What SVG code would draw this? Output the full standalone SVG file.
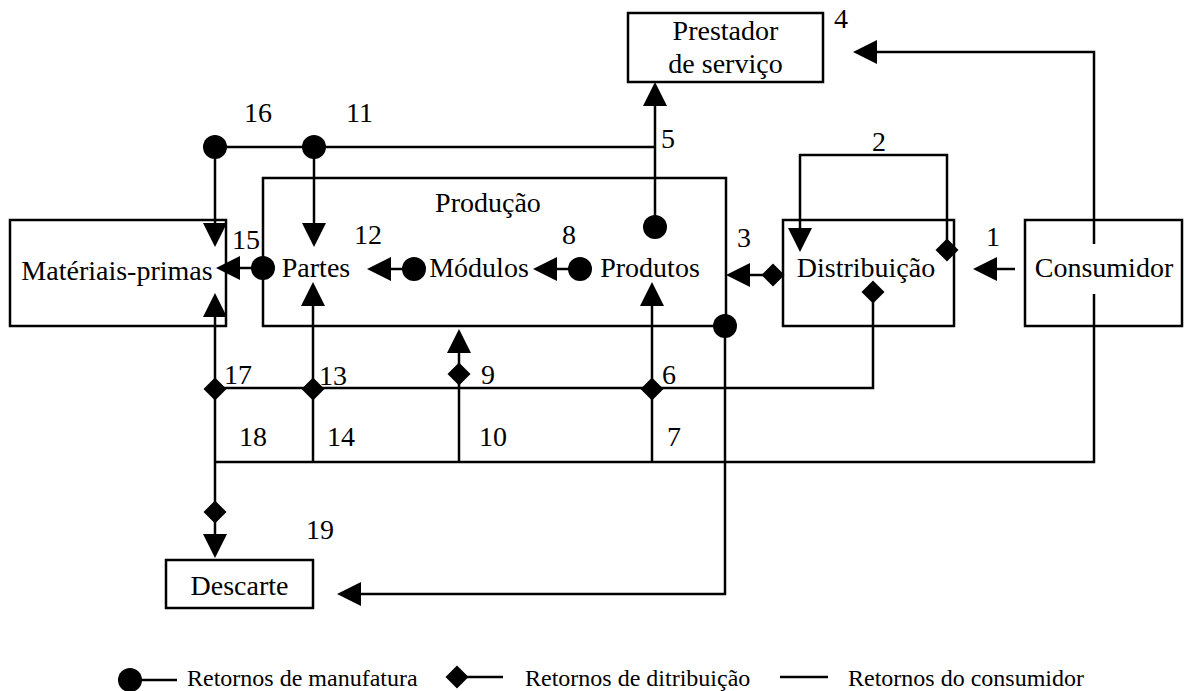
<svg xmlns="http://www.w3.org/2000/svg" xmlns:xlink="http://www.w3.org/1999/xlink" width="1184" height="691" viewBox="0 0 1184 691">
<style>
.box{fill:#fff;stroke:#000;stroke-width:2.5}
.ln{fill:none;stroke:#000;stroke-width:2.5}
.arr{fill:none;stroke:#000;stroke-width:2.5;marker-end:url(#ah)}
.t{font-family:"Liberation Serif","Times New Roman",serif;font-size:28px;fill:#000}
.c{text-anchor:middle}
.lg{font-family:"Liberation Serif","Times New Roman",serif;font-size:24px;fill:#000}
</style>
<defs>
<marker id="ah" markerUnits="userSpaceOnUse" markerWidth="24" markerHeight="24" refX="0" refY="12" orient="auto" viewBox="0 0 24 24">
<path d="M0,0 L24,12 L0,24 z" fill="#000"/>
</marker>
<circle id="dot" r="12" fill="#000"/>
<path id="dia" d="M0,-11.5 L11.5,0 L0,11.5 L-11.5,0 z" fill="#000"/>
</defs>
<rect width="1184" height="691" fill="#fff"/>

<g id="prestador">
<rect class="box" x="628" y="13" width="195" height="69"/>
<text class="t c" x="725.5" y="40">Prestador</text>
<text class="t c" x="725.5" y="73">de serviço</text>
</g>
<g id="producao">
<rect class="box" x="263" y="178" width="463" height="148"/>
<text class="t c" x="488" y="212">Produção</text>
<g id="partes"><text class="t c" x="316" y="277">Partes</text></g>
<g id="modulos"><text class="t c" x="479" y="277">Módulos</text></g>
<g id="produtos"><text class="t c" x="650" y="277">Produtos</text></g>
</g>
<g id="materias">
<rect class="box" x="10" y="220" width="216" height="106"/>
<text class="t c" x="117" y="280">Matériais-primas</text>
</g>
<g id="distribuicao">
<rect class="box" x="783" y="220" width="171" height="106"/>
<text class="t c" x="866" y="277">Distribuição</text>
</g>
<g id="consumidor">
<rect class="box" x="1025" y="220" width="157" height="106"/>
<text class="t c" x="1104" y="277">Consumidor</text>
</g>
<g id="descarte">
<rect class="box" x="166" y="560" width="147" height="48"/>
<text class="t c" x="239.5" y="595">Descarte</text>
</g>

<g id="connectors">
<!-- consumidor to prestador (4) -->
<path class="arr" d="M1094,244 L1094,52 L877,52"/>
<!-- consumer returns bottom -->
<path class="ln" d="M1094,294 L1094,462 L215,462"/>
<path class="arr" d="M313,462 L313,306"/>
<path class="arr" d="M459,462 L459,353"/>
<path class="arr" d="M652,462 L652,306"/>
<path class="arr" d="M215,462 L215,317"/>
<path class="arr" d="M215,462 L215,534"/>
<!-- distribution returns -->
<path class="ln" d="M873,292 L873,388 L215,388"/>
<use xlink:href="#dia" x="873" y="292"/>
<use xlink:href="#dia" x="215" y="389"/>
<use xlink:href="#dia" x="313" y="389"/>
<use xlink:href="#dia" x="652" y="389"/>
<use xlink:href="#dia" x="459" y="374"/>
<use xlink:href="#dia" x="215" y="512"/>
<!-- manufacturing returns top -->
<path class="arr" d="M655,227 L655,106"/>
<use xlink:href="#dot" x="655" y="227"/>
<path class="ln" d="M655,147 L215,147"/>
<path class="arr" d="M215,147 L215,223"/>
<path class="arr" d="M314,147 L314,223"/>
<use xlink:href="#dot" x="215" y="147"/>
<use xlink:href="#dot" x="314" y="147"/>
<!-- loop 2 -->
<path class="arr" d="M947,250 L947,155 L800,155 L800,228"/>
<use xlink:href="#dia" x="947" y="250"/>
<!-- 1 -->
<path class="arr" d="M1015,269 L997,269"/>
<!-- 3 -->
<path class="arr" d="M773,275 L750,275"/>
<use xlink:href="#dia" x="773" y="275"/>
<!-- 8, 12, 15 -->
<path class="arr" d="M580,269 L557,269"/>
<use xlink:href="#dot" x="580" y="269"/>
<path class="arr" d="M414,269 L391,269"/>
<use xlink:href="#dot" x="414" y="269"/>
<path class="arr" d="M263,268 L240,268"/>
<use xlink:href="#dot" x="263" y="268"/>
<!-- to descarte -->
<path class="arr" d="M725,326 L725,594 L361,594"/>
<use xlink:href="#dot" x="725" y="326"/>
</g>

<g id="labels">
<text class="t" x="834" y="28">4</text>
<text class="t" x="244" y="122">16</text>
<text class="t" x="346" y="122">11</text>
<text class="t" x="661" y="148">5</text>
<text class="t" x="872" y="151">2</text>
<text class="t" x="232" y="249">15</text>
<text class="t" x="354" y="244">12</text>
<text class="t" x="562" y="244">8</text>
<text class="t" x="737" y="247">3</text>
<text class="t" x="986" y="246">1</text>
<text class="t" x="224" y="384">17</text>
<text class="t" x="319" y="385">13</text>
<text class="t" x="481" y="384">9</text>
<text class="t" x="662" y="384">6</text>
<text class="t" x="239" y="446">18</text>
<text class="t" x="327" y="446">14</text>
<text class="t" x="479" y="446">10</text>
<text class="t" x="667" y="446">7</text>
<text class="t" x="306" y="539">19</text>
</g>

<g id="legend">
<line class="ln" x1="130" y1="680" x2="177" y2="680"/>
<use xlink:href="#dot" x="130" y="680"/>
<text class="lg" x="187" y="686">Retornos de manufatura</text>
<line class="ln" x1="457" y1="677" x2="503" y2="677"/>
<use xlink:href="#dia" x="457" y="677"/>
<text class="lg" x="525" y="686">Retornos de ditribuição</text>
<line class="ln" x1="780" y1="677" x2="828" y2="677"/>
<text class="lg" x="848" y="686">Retornos do consumidor</text>
</g>
</svg>
